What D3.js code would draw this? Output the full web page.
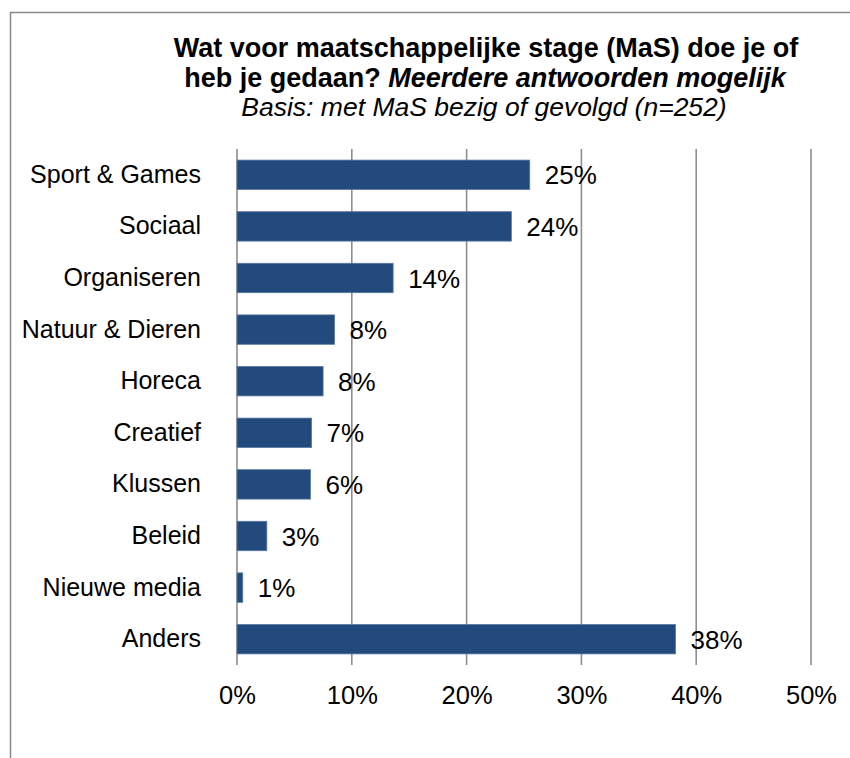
<!DOCTYPE html>
<html>
<head>
<meta charset="utf-8">
<script src="https://cdn.jsdelivr.net/npm/d3@7"></script>
<style>
  html, body { margin: 0; padding: 0; background: #fff; }
  svg { display: block; font-family: "Liberation Sans", Arial, sans-serif; }
</style>
</head>
<body>
<svg id="chart" width="850" height="758"></svg>
<script>
const categories = ["Sport & Games", "Sociaal", "Organiseren", "Natuur & Dieren", "Horeca", "Creatief", "Klussen", "Beleid", "Nieuwe media", "Anders"];
const values = [0.255, 0.239, 0.136, 0.085, 0.075, 0.065, 0.064, 0.026, 0.005, 0.382];
const valueLabels = ["25%", "24%", "14%", "8%", "8%", "7%", "6%", "3%", "1%", "38%"];
const tickValues = [0, 0.1, 0.2, 0.3, 0.4, 0.5];
const titleLine1 = "Wat voor maatschappelijke stage (MaS) doe je of";
const titleLine2a = "heb je gedaan? ";
const titleLine2b = "Meerdere antwoorden mogelijk";
const subtitle = "Basis: met MaS bezig of gevolgd (n=252)";

const svg = d3.select("#chart");

// outer frame
svg.append("rect")
  .attr("x", 10.5).attr("y", 12.5)
  .attr("width", 900).attr("height", 900)
  .attr("fill", "none").attr("stroke", "#898989").attr("stroke-width", 1.5);

const x = d3.scaleLinear().domain([0, 0.5]).range([237, 811]);
const y = d3.scaleBand().domain(categories).range([149, 665])
  .paddingInner(0.43).paddingOuter(0.215);

// gridlines
svg.append("g").selectAll("line").data(tickValues).join("line")
  .attr("x1", d => x(d)).attr("x2", d => x(d))
  .attr("y1", 149).attr("y2", 665)
  .attr("stroke", "#8e8e8e").attr("stroke-width", 1.6);

// bars
svg.append("g").selectAll("rect").data(categories).join("rect")
  .attr("x", x(0))
  .attr("y", d => y(d))
  .attr("width", (d, i) => x(values[i]) - x(0))
  .attr("height", y.bandwidth())
  .attr("fill", "#234a7c")
  .attr("stroke", "#5a78a4").attr("stroke-width", 0.8);

// value labels
svg.append("g").selectAll("text").data(categories).join("text")
  .attr("x", (d, i) => x(values[i]) + 15)
  .attr("y", d => y(d) + y.bandwidth() / 2)
  .attr("dy", "0.37em")
  .attr("font-size", 26)
  .attr("fill", "#000")
  .text((d, i) => valueLabels[i]);

// category axis
const yAxis = d3.axisLeft(y).tickSize(0).tickPadding(0);
const gy = svg.append("g").attr("transform", "translate(201,0)").call(yAxis);
gy.select(".domain").remove();
gy.selectAll("text").attr("font-size", 25).attr("font-family", "Liberation Sans, Arial, sans-serif").attr("fill", "#000");

// value axis
const xAxis = d3.axisBottom(x).tickValues(tickValues).tickFormat(d3.format(".0%")).tickSize(0).tickPadding(0);
const gx = svg.append("g").attr("transform", "translate(0,686)").call(xAxis);
gx.select(".domain").remove();
gx.selectAll("text").attr("font-size", 25.5).attr("font-family", "Liberation Sans, Arial, sans-serif").attr("fill", "#000");

// title
const title = svg.append("g").attr("text-anchor", "middle");
title.append("text").attr("x", 486).attr("y", 57)
  .attr("font-size", 27).attr("font-weight", "bold").text(titleLine1);
const t2 = title.append("text").attr("x", 485).attr("y", 87)
  .attr("font-size", 27).attr("font-weight", "bold");
t2.append("tspan").text(titleLine2a);
t2.append("tspan").attr("font-style", "italic").text(titleLine2b);
title.append("text").attr("x", 484).attr("y", 116)
  .attr("font-size", 26.5).attr("font-style", "italic").text(subtitle);
</script>
</body>
</html>
